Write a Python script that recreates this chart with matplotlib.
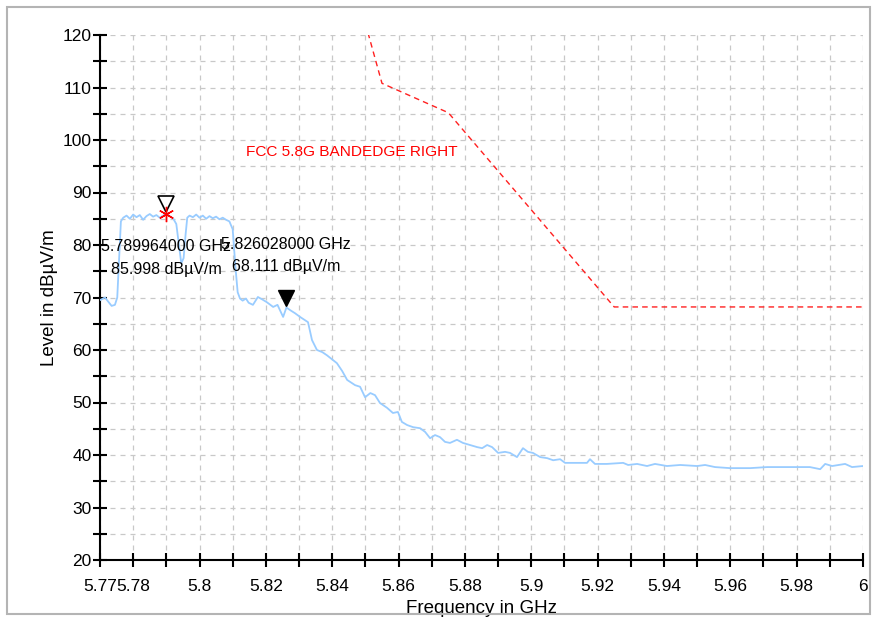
import numpy as np
import matplotlib
matplotlib.use("Agg")
from matplotlib import pyplot as plt
from matplotlib.patches import Rectangle

plt.rcParams['font.family'] = ['Liberation Sans', 'DejaVu Sans']

# trace (GHz, dBuV/m)
freq = [5.7700, 5.7715, 5.7725, 5.7735, 5.7745, 5.7752, 5.7758, 5.7763, 5.7770, 5.7780,
        5.7790, 5.7800, 5.7810, 5.7820, 5.7830, 5.7840, 5.7850, 5.7860, 5.7870, 5.7880,
        5.7890, 5.7900, 5.7910, 5.7920, 5.7930, 5.7938, 5.7945, 5.7952, 5.7958, 5.7963,
        5.7970, 5.7980, 5.7990, 5.8000, 5.8010, 5.8020, 5.8030, 5.8040, 5.8050, 5.8060,
        5.8070, 5.8080, 5.8090, 5.8100, 5.8108, 5.8115, 5.8122, 5.8130, 5.8140, 5.8148,
        5.8161, 5.8176, 5.8190, 5.8203, 5.8222, 5.8235, 5.8252, 5.8262, 5.8273, 5.8288,
        5.8303, 5.8327, 5.8339, 5.8354, 5.8370, 5.8384, 5.8400, 5.8414, 5.8430, 5.8445,
        5.8469, 5.8484, 5.8499, 5.8515, 5.8529, 5.8544, 5.8565, 5.8583, 5.8598, 5.8610,
        5.8626, 5.8644, 5.8665, 5.8680, 5.8695, 5.8710, 5.8725, 5.8740, 5.8755, 5.8776,
        5.8794, 5.8815, 5.8837, 5.8852, 5.8867, 5.8882, 5.8900, 5.8921, 5.8936, 5.8957,
        5.8975, 5.8990, 5.9005, 5.9027, 5.9048, 5.9066, 5.9087, 5.9102, 5.9126, 5.9168,
        5.9177, 5.9192, 5.9228, 5.9277, 5.9292, 5.9319, 5.9349, 5.9373, 5.9409, 5.9449,
        5.9500, 5.9524, 5.9554, 5.9599, 5.9660, 5.9711, 5.9759, 5.9801, 5.9840, 5.9871,
        5.9886, 5.9907, 5.9946, 5.9967, 6.0000]
level = [69.5, 70.0, 69.2, 68.4, 68.6, 70.0, 78.0, 84.5, 85.2, 85.6,
         85.0, 85.8, 85.3, 85.7, 84.8, 85.5, 85.9, 85.4, 85.7, 85.2,
         85.6, 86.0, 85.5, 85.1, 84.0, 80.0, 76.5, 77.5, 82.0, 85.2,
         85.6, 85.3, 85.8, 85.2, 85.6, 85.0, 85.5, 85.1, 85.4, 84.9,
         85.2, 84.8, 84.5, 83.0, 76.0, 71.0, 69.8, 69.4, 69.8, 69.0,
         68.6, 70.1, 69.6, 69.1, 68.2, 68.6, 66.3, 68.1, 67.6, 67.0,
         66.3, 65.3, 61.9, 60.0, 59.6, 59.0, 58.2, 57.5, 56.0, 54.3,
         53.3, 53.0, 51.0, 51.8, 51.4, 49.9, 49.0, 48.0, 48.2, 46.3,
         45.7, 45.3, 45.1, 44.4, 43.2, 43.8, 43.4, 42.5, 42.3, 42.9,
         42.3, 41.9, 41.5, 41.3, 41.9, 41.5, 40.4, 40.6, 40.4, 39.6,
         41.3, 40.6, 40.4, 39.6, 39.4, 39.0, 39.2, 38.5, 38.5, 38.5,
         39.2, 38.3, 38.3, 38.5, 38.1, 38.3, 37.9, 38.3, 37.9, 38.1,
         37.9, 38.1, 37.7, 37.5, 37.5, 37.7, 37.7, 37.7, 37.7, 37.3,
         38.3, 37.9, 38.3, 37.7, 37.9]

# FCC 5.8G band edge limit line
limit_freq = [5.850, 5.855, 5.875, 5.925, 6.000]
limit_level = [122.2, 110.8, 105.2, 68.2, 68.2]

# markers
mk1_f, mk1_l = 5.789964, 85.998
mk2_f, mk2_l = 5.826028, 68.111

fig = plt.figure(figsize=(8.77, 6.23), dpi=100)
fig.patches.append(Rectangle((7 / 877, 1 - 614 / 623), 863 / 877, 607 / 623,
                             transform=fig.transFigure, fill=False,
                             edgecolor='#b4b4b4', lw=1.5))
ax = fig.add_axes([100 / 877, 1 - 560 / 623, 763 / 877, 525 / 623])

ax.plot(freq, level, color='#99ccff', lw=1.3, zorder=3)
ax.plot(limit_freq, limit_level, color='#ff2020', lw=1.0, ls=(0, (4, 3)), zorder=3)

ax.plot(mk1_f, mk1_l + 1.8, marker='v', ms=12, mfc='white', mec='black', mew=1.2, zorder=5)
ax.plot(mk1_f, mk1_l, marker=(6, 2, 0), ms=11, color='red', mew=1.0, zorder=6)
ax.plot(mk2_f, mk2_l + 1.8, marker='v', ms=12, color='black', zorder=5)

fs = 11.5
ax.text(mk1_f, 79.7, '5.789964000 GHz', ha='center', va='center', fontsize=fs)
ax.text(mk1_f, 75.3, '85.998 dBµV/m', ha='center', va='center', fontsize=fs)
ax.text(mk2_f, 80.1, '5.826028000 GHz', ha='center', va='center', fontsize=fs)
ax.text(mk2_f, 75.9, '68.111 dBµV/m', ha='center', va='center', fontsize=fs)
ax.text(5.8140, 97.7, 'FCC 5.8G BANDEDGE RIGHT', color='red', ha='left', va='center',
        fontsize=11.1)

ax.set_xlim(5.77, 6.0)
ax.set_ylim(20, 120)

xt = np.round(np.arange(5.77, 6.0001, 0.01), 2)
xl = []
for v in xt:
    if v in (5.77, 5.78) or round(v * 100) % 2 == 0:
        xl.append('%g' % v)
    else:
        xl.append('')
ax.set_xticks(xt)
ax.set_xticklabels(xl)
yt = np.arange(20, 121, 5)
ax.set_yticks(yt)
ax.set_yticklabels(['%d' % v if v % 10 == 0 else '' for v in yt])

ax.tick_params(direction='inout', length=10, width=1.5, labelsize=12.5)
ax.tick_params(axis='x', pad=9)
ax.tick_params(axis='y', pad=1)
for s in ['top', 'right']:
    ax.spines[s].set_visible(False)
for s in ['left', 'bottom']:
    ax.spines[s].set_linewidth(1.5)
ax.grid(True, color='#c8c8c8', ls=(0, (4, 4)), lw=0.9)

ax.set_xlabel('Frequency in GHz', fontsize=13.5, labelpad=4)
ax.set_ylabel('Level in dBµV/m', fontsize=13.5, labelpad=3)

plt.savefig('out.png', dpi=100)
